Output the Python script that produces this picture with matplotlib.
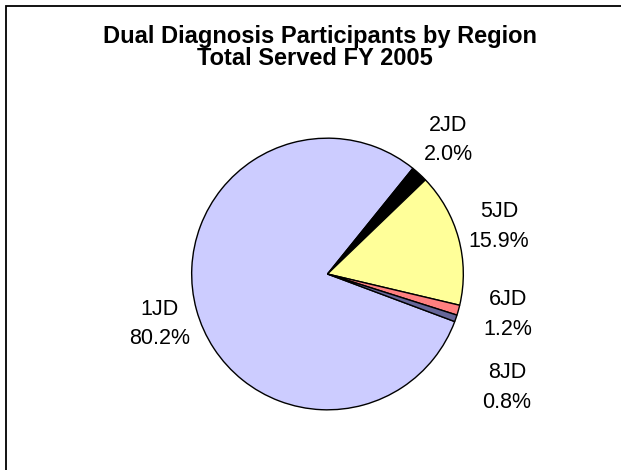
import matplotlib

matplotlib.use("Agg")
import matplotlib.pyplot as plt
from matplotlib.patches import Rectangle

W, H = 621, 470

regions = ["1JD", "2JD", "5JD", "6JD", "8JD"]
shares = [80.2, 2.0, 15.9, 1.2, 0.8]
colors = ["#CCCCFF", "#000000", "#FFFF99", "#FF8080", "#666699"]

title_lines = ["Dual Diagnosis Participants by Region", "Total Served FY 2005"]

# label anchor (x center, baseline of name line, baseline of pct line) in pixels
label_pos = {
    "1JD": (160, 315, 344),
    "2JD": (448, 131, 160),
    "5JD": (499, 217, 247),
    "6JD": (508, 305, 335),
    "8JD": (507, 378, 408),
}


def fx(px):
    return px / W


def fy(py):
    return 1 - py / H


plt.rcParams["font.family"] = ["Liberation Sans", "DejaVu Sans"]

fig = plt.figure(figsize=(W / 100, H / 100), dpi=100)
fig.patch.set_facecolor("white")

# outer chart frame (right and bottom edges fall outside the picture)
fig.patches.append(
    Rectangle((fx(6), -0.05), 1.1, fy(5.5) + 0.05, transform=fig.transFigure,
              fill=False, edgecolor="black", linewidth=1.3)
)

cx, cy, r = 327.5, 274, 136.5
ax = fig.add_axes([fx(cx - r), fy(cy + r), 2 * r / W, 2 * r / H])
ax.pie(
    shares,
    colors=colors,
    startangle=-20.5,
    counterclock=False,
    radius=1.0,
    wedgeprops={"edgecolor": "black", "linewidth": 1.0},
)
ax.set_xlim(-1.005, 1.005)
ax.set_ylim(-1.005, 1.005)
ax.set_aspect("equal")
ax.axis("off")

fig.text(fx(320), fy(43.3), title_lines[0], ha="center", va="baseline",
         fontsize=17, fontweight="bold")
fig.text(fx(315), fy(65), title_lines[1], ha="center", va="baseline",
         fontsize=17, fontweight="bold")

for name, value in zip(regions, shares):
    x, y1, y2 = label_pos[name]
    fig.text(fx(x), fy(y1), name, ha="center", va="baseline", fontsize=15.5)
    fig.text(fx(x), fy(y2), f"{value:.1f}%", ha="center", va="baseline", fontsize=15.5)

fig.savefig("out.png", dpi=100)
